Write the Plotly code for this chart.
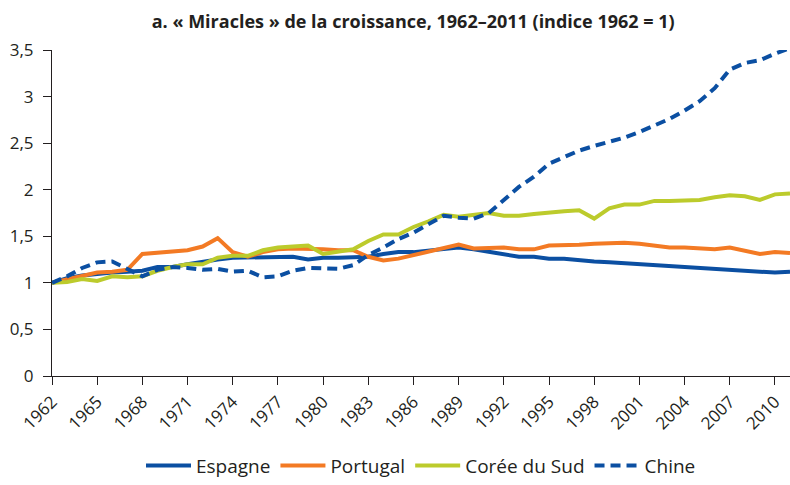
import plotly.graph_objects as go

years = list(range(1962, 2012))

espagne = [1.00, 1.05, 1.08, 1.10, 1.11, 1.12, 1.13, 1.17, 1.17, 1.20, 1.23, 1.25, 1.27, 1.27, 1.28, 1.28, 1.28,
           1.25, 1.27, 1.27, 1.27, 1.28, 1.31, 1.33, 1.33, 1.35, 1.36, 1.38, 1.36, 1.33, 1.31, 1.28, 1.28, 1.26,
           1.26, 1.24, 1.23, 1.22, 1.21, 1.20, 1.20, 1.19, 1.18, 1.17, 1.16, 1.15, 1.14, 1.12, 1.11, 1.12]
portugal = [1.00, 1.04, 1.08, 1.11, 1.12, 1.14, 1.31, 1.32, 1.33, 1.35, 1.39, 1.48, 1.33, 1.28, 1.33, 1.36, 1.37,
            1.37, 1.36, 1.35, 1.35, 1.28, 1.24, 1.26, 1.30, 1.33, 1.37, 1.41, 1.37, 1.38, 1.38, 1.36, 1.36, 1.40,
            1.40, 1.41, 1.42, 1.43, 1.43, 1.42, 1.40, 1.38, 1.38, 1.37, 1.36, 1.38, 1.34, 1.31, 1.33, 1.32]
coree = [1.00, 1.01, 1.04, 1.02, 1.07, 1.06, 1.07, 1.13, 1.17, 1.20, 1.20, 1.27, 1.29, 1.29, 1.35, 1.38, 1.39,
         1.40, 1.31, 1.33, 1.36, 1.45, 1.52, 1.52, 1.60, 1.66, 1.73, 1.71, 1.73, 1.75, 1.72, 1.72, 1.74, 1.76,
         1.77, 1.78, 1.69, 1.80, 1.84, 1.84, 1.88, 1.88, 1.88, 1.89, 1.92, 1.94, 1.93, 1.89, 1.95, 1.96]
chine = [1.00, 1.07, 1.16, 1.22, 1.23, 1.15, 1.07, 1.14, 1.17, 1.16, 1.14, 1.15, 1.12, 1.13, 1.06, 1.07, 1.13,
         1.16, 1.16, 1.15, 1.19, 1.30, 1.38, 1.47, 1.54, 1.63, 1.72, 1.70, 1.69, 1.75, 1.89, 2.03, 2.14, 2.28,
         2.35, 2.42, 2.47, 2.51, 2.56, 2.62, 2.69, 2.76, 2.85, 2.95, 3.09, 3.29, 3.36, 3.39, 3.46, 3.52]

x_ticks = list(range(1962, 2011, 3))
y_ticks = [0, 0.5, 1, 1.5, 2, 2.5, 3, 3.5]

title = "a. « Miracles » de la croissance, 1962–2011 (indice 1962 = 1)"

BLUE = "#0b4fa2"
ORANGE = "#f37a24"
GREEN = "#bccb2c"
INK = "#231f20"

fig = go.Figure()
fig.add_trace(go.Scatter(x=years, y=espagne, name="Espagne", mode="lines",
                         line=dict(color=BLUE, width=4)))
fig.add_trace(go.Scatter(x=years, y=portugal, name="Portugal", mode="lines",
                         line=dict(color=ORANGE, width=4)))
fig.add_trace(go.Scatter(x=years, y=coree, name="Corée du Sud", mode="lines",
                         line=dict(color=GREEN, width=4)))
fig.add_trace(go.Scatter(x=years, y=chine, name="Chine", mode="lines",
                         line=dict(color=BLUE, width=4, dash="10px,6px")))

fig.update_layout(
    width=790, height=485,
    margin=dict(l=52, r=0, t=50, b=104),
    paper_bgcolor="white", plot_bgcolor="white",
    separators=", ",
    font=dict(family="Open Sans, sans-serif", size=16, color=INK),
    title=dict(text="<b>" + title + "</b>", x=0.523, xanchor="center", y=0.955, yanchor="middle",
               font=dict(size=18, color=INK)),
    showlegend=True,
    legend=dict(orientation="h", x=0.5, xanchor="center", y=-0.275, yanchor="middle",
                font=dict(size=19), itemwidth=45, traceorder="normal"),
    xaxis=dict(range=[1962, 2011], tickvals=x_ticks, ticktext=[str(v) for v in x_ticks],
               tickangle=-45, showgrid=False, zeroline=False, showline=True, automargin=False,
               linecolor=INK, linewidth=1.2, ticks="outside", ticklen=8,
               tickcolor=INK, tickfont=dict(size=17)),
    yaxis=dict(range=[0, 3.5], tickvals=y_ticks, showgrid=False, zeroline=False, showline=True,
               automargin=False, linecolor=INK, linewidth=1.2, ticks="outside", ticklen=8,
               ticklabelstandoff=6, tickcolor=INK, tickfont=dict(size=17)),
)

# Remove the browser's default 8px page margin so the figure fills the window exactly.
fig.write_html("out.html", config={"displayModeBar": False},
               post_script="document.body.style.margin='0';")
